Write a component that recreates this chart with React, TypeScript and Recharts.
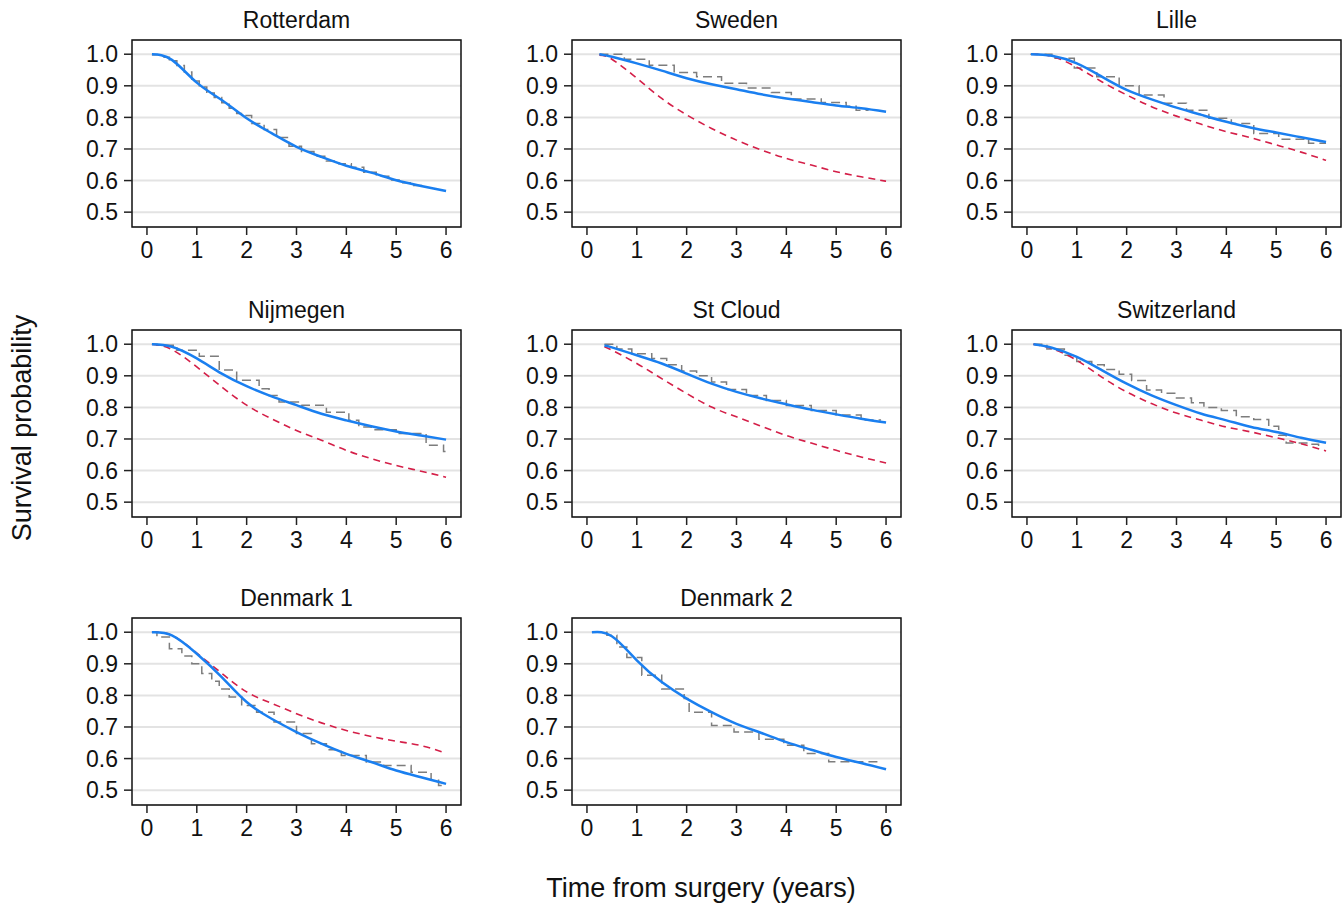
import { LineChart, Line, XAxis, YAxis, CartesianGrid, ReferenceArea } from "recharts";

// shared time grid for the smooth curves (after each panel's start time)
const GRID = [0.5, 1, 1.5, 2, 2.5, 3, 3.5, 4, 4.5, 5, 5.5, 6];
const X_TICKS = [0, 1, 2, 3, 4, 5, 6];
const Y_TICKS = [0.5, 0.6, 0.7, 0.8, 0.9, 1.0];

const names = ["Rotterdam", "Sweden", "Lille", "Nijmegen", "St Cloud", "Switzerland", "Denmark 1", "Denmark 2"];
const startTimes = [0.1, 0.25, 0.08, 0.1, 0.35, 0.13, 0.1, 0.1];

// model (blue), first value is at the start time
const rotterdamModel = [1.0, 0.982, 0.91, 0.855, 0.797, 0.75, 0.707, 0.675, 0.647, 0.625, 0.601, 0.583, 0.567];
const swedenModel = [1.0, 0.992, 0.971, 0.948, 0.924, 0.905, 0.889, 0.873, 0.86, 0.849, 0.838, 0.829, 0.818];
const lilleModel = [1.0, 0.995, 0.971, 0.929, 0.887, 0.857, 0.831, 0.808, 0.786, 0.767, 0.752, 0.737, 0.722];
const nijmegenModel = [1.0, 0.992, 0.955, 0.907, 0.867, 0.835, 0.807, 0.78, 0.759, 0.74, 0.724, 0.711, 0.698];
const stCloudModel = [0.996, 0.99, 0.965, 0.939, 0.907, 0.875, 0.849, 0.828, 0.81, 0.793, 0.778, 0.764, 0.752];
const switzerlandModel = [1.0, 0.989, 0.96, 0.918, 0.875, 0.838, 0.807, 0.78, 0.759, 0.738, 0.722, 0.704, 0.688];
const denmark1Model = [1.0, 0.99, 0.932, 0.858, 0.779, 0.726, 0.684, 0.647, 0.615, 0.589, 0.562, 0.541, 0.52];
const denmark2Model = [1.0, 0.987, 0.911, 0.842, 0.79, 0.747, 0.71, 0.681, 0.652, 0.628, 0.605, 0.586, 0.566];

// predicted without recalibration (red dashed)
const swedenPred = [0.997, 0.984, 0.924, 0.86, 0.808, 0.765, 0.728, 0.697, 0.67, 0.649, 0.628, 0.612, 0.598];
const lillePred = [1.0, 0.993, 0.959, 0.913, 0.871, 0.834, 0.804, 0.778, 0.755, 0.735, 0.713, 0.69, 0.664];
const nijmegenPred = [1.0, 0.983, 0.928, 0.865, 0.807, 0.764, 0.727, 0.696, 0.664, 0.638, 0.616, 0.598, 0.579];
const stCloudPred = [0.992, 0.981, 0.939, 0.891, 0.844, 0.801, 0.77, 0.74, 0.711, 0.687, 0.664, 0.643, 0.624];
const switzerlandPred = [1.0, 0.986, 0.949, 0.896, 0.849, 0.812, 0.782, 0.759, 0.738, 0.722, 0.704, 0.685, 0.662];
const denmark1Pred = [1.0, 0.99, 0.934, 0.87, 0.811, 0.775, 0.742, 0.713, 0.689, 0.67, 0.655, 0.641, 0.617];

// Kaplan-Meier (grey dashed steps)
const rotterdamKmT = [0.1, 0.3, 0.45, 0.6, 0.75, 0.9, 1.05, 1.2, 1.35, 1.5, 1.65, 1.8, 1.95, 2.1, 2.35, 2.6, 2.85, 3.1, 3.35, 3.6, 3.85, 4.1, 4.35, 4.6, 4.85, 5.1, 5.35, 5.6];
const rotterdamKmS = [0.998, 0.99, 0.979, 0.964, 0.944, 0.915, 0.896, 0.877, 0.863, 0.846, 0.829, 0.812, 0.806, 0.781, 0.762, 0.736, 0.709, 0.692, 0.677, 0.662, 0.653, 0.642, 0.626, 0.614, 0.602, 0.593, 0.584, 0.584];
const swedenKmT = [0.25, 0.75, 1.25, 1.75, 2.2, 2.7, 3.2, 3.7, 4.1, 4.7, 5.2, 5.4, 5.65];
const swedenKmS = [1.0, 0.984, 0.965, 0.942, 0.929, 0.908, 0.893, 0.879, 0.858, 0.847, 0.835, 0.823, 0.823];
const lilleKmT = [0.07, 0.5, 0.95, 1.4, 1.85, 2.25, 2.75, 3.2, 3.65, 4.1, 4.55, 5.05, 5.65, 6.0];
const lilleKmS = [1.0, 0.987, 0.956, 0.929, 0.9, 0.871, 0.845, 0.823, 0.797, 0.781, 0.749, 0.731, 0.718, 0.718];
const nijmegenKmT = [0.1, 0.2, 0.6, 1.05, 1.45, 1.8, 2.25, 2.45, 2.65, 3.1, 3.6, 4.05, 4.25, 4.5, 5.0, 5.6, 5.95, 6.0];
const nijmegenKmS = [1.0, 0.997, 0.981, 0.962, 0.918, 0.886, 0.859, 0.838, 0.817, 0.807, 0.785, 0.759, 0.738, 0.729, 0.717, 0.68, 0.66, 0.66];
const stCloudKmT = [0.35, 0.6, 0.9, 1.3, 1.6, 1.9, 2.2, 2.5, 2.8, 3.2, 3.6, 4.0, 4.5, 5.0, 5.5, 5.9];
const stCloudKmS = [1.0, 0.985, 0.97, 0.955, 0.935, 0.915, 0.9, 0.88, 0.857, 0.838, 0.822, 0.806, 0.79, 0.776, 0.76, 0.76];
const switzerlandKmT = [0.13, 0.4, 0.75, 1.0, 1.3, 1.55, 1.85, 2.1, 2.4, 2.7, 3.0, 3.3, 3.55, 3.9, 4.2, 4.55, 4.85, 5.05, 5.2, 5.7, 5.85];
const switzerlandKmS = [1.0, 0.985, 0.965, 0.945, 0.935, 0.92, 0.905, 0.885, 0.855, 0.845, 0.83, 0.815, 0.8, 0.79, 0.77, 0.762, 0.74, 0.712, 0.687, 0.683, 0.665];
const denmark1KmT = [0.1, 0.2, 0.45, 0.7, 0.9, 1.1, 1.3, 1.45, 1.65, 1.9, 2.2, 2.55, 3.0, 3.3, 3.6, 3.9, 4.4, 4.75, 5.3, 5.7, 5.85, 6.0];
const denmark1KmS = [1.0, 0.985, 0.948, 0.925, 0.9, 0.869, 0.845, 0.82, 0.795, 0.768, 0.747, 0.716, 0.679, 0.647, 0.628, 0.61, 0.589, 0.578, 0.557, 0.531, 0.515, 0.515];
const denmark2KmT = [0.1, 0.4, 0.6, 0.8, 1.1, 1.5, 1.95, 2.05, 2.5, 2.95, 3.45, 3.95, 4.35, 4.85, 5.9];
const denmark2KmS = [1.0, 0.99, 0.953, 0.92, 0.864, 0.82, 0.79, 0.747, 0.705, 0.684, 0.661, 0.642, 0.616, 0.59, 0.59];

const models = [rotterdamModel, swedenModel, lilleModel, nijmegenModel, stCloudModel, switzerlandModel, denmark1Model, denmark2Model];
const preds = [[], swedenPred, lillePred, nijmegenPred, stCloudPred, switzerlandPred, denmark1Pred, []];
const kmTimes = [rotterdamKmT, swedenKmT, lilleKmT, nijmegenKmT, stCloudKmT, switzerlandKmT, denmark1KmT, denmark2KmT];
const kmSurv = [rotterdamKmS, swedenKmS, lilleKmS, nijmegenKmS, stCloudKmS, switzerlandKmS, denmark1KmS, denmark2KmS];

const BOX_LEFT = [132, 572, 1012];
const BOX_TOP = [40, 330, 618];
const BOX_W = 329;
const Y_AXIS_W = 60;
const X_DOMAIN = [-0.3, 6.3];
const Y_DOMAIN = [0.453, 1.045];

const BLUE = "#1a7ff0";
const RED = "#d41f48";
const GREY = "#7d7d7d";

const curve = (start: number, vals: number[]) =>
	vals.map((v, i) => ({ t: i === 0 ? start : GRID[i - 1], v }));

const steps = (ts: number[], vs: number[]) => ts.map((t, i) => ({ t, v: vs[i] }));

function Panel({ idx }: { idx: number }) {
	const left = BOX_LEFT[idx % 3];
	const top = BOX_TOP[Math.floor(idx / 3)];
	const model = curve(startTimes[idx], models[idx]);
	const pred = preds[idx].length ? curve(startTimes[idx], preds[idx]) : null;
	const km = steps(kmTimes[idx], kmSurv[idx]);

	return (
		<>
			<div
				style={{
					position: "absolute",
					left,
					width: BOX_W,
					top: top - 31.5,
					textAlign: "center",
					fontSize: 23,
					lineHeight: "23px",
					color: "#111",
				}}
			>
				{names[idx]}
			</div>
			<div style={{ position: "absolute", left: left - Y_AXIS_W, top: top - 10 }}>
				<LineChart width={Y_AXIS_W + BOX_W + 3} height={242} margin={{ top: 10, right: 3, left: 0, bottom: 0 }}>
					<CartesianGrid vertical={false} stroke="#e3e3e3" strokeWidth={2} />
					<XAxis
						type="number"
						dataKey="t"
						domain={X_DOMAIN}
						ticks={X_TICKS}
						allowDataOverflow
						axisLine={false}
						tickSize={8}
						tickMargin={7}
						height={45}
						tick={{ fill: "#111", fontSize: 23 }}
						tickLine={{ stroke: "#222", strokeWidth: 1.5 }}
					/>
					<YAxis
						type="number"
						domain={Y_DOMAIN}
						ticks={Y_TICKS}
						allowDataOverflow
						axisLine={false}
						width={Y_AXIS_W}
						tickSize={8}
						tickMargin={6}
						tick={{ fill: "#111", fontSize: 23 }}
						tickLine={{ stroke: "#222", strokeWidth: 1.5 }}
						tickFormatter={(v: number) => v.toFixed(1)}
					/>
					<ReferenceArea
						x1={X_DOMAIN[0]}
						x2={X_DOMAIN[1]}
						y1={Y_DOMAIN[0]}
						y2={Y_DOMAIN[1]}
						fill="none"
						stroke="#111"
						strokeWidth={1.5}
						strokeOpacity={1}
					/>
					<Line
						data={km}
						dataKey="v"
						type="stepAfter"
						stroke={GREY}
						strokeWidth={1.5}
						strokeDasharray="9 5"
						dot={false}
						isAnimationActive={false}
					/>
					{pred && (
						<Line
							data={pred}
							dataKey="v"
							type="natural"
							stroke={RED}
							strokeWidth={1.6}
							strokeDasharray="7 5"
							dot={false}
							isAnimationActive={false}
						/>
					)}
					<Line
						data={model}
						dataKey="v"
						type="natural"
						stroke={BLUE}
						strokeWidth={2.5}
						dot={false}
						isAnimationActive={false}
					/>
				</LineChart>
			</div>
		</>
	);
}

export default function App() {
	return (
		<div
			style={{
				position: "absolute",
				left: 0,
				top: 0,
				width: 1344,
				height: 904,
				overflow: "hidden",
				background: "#fff",
				fontFamily: "'Liberation Sans', Arial, sans-serif",
			}}
		>
			{names.map((_, i) => (
				<Panel key={i} idx={i} />
			))}
			<div
				style={{
					position: "absolute",
					left: 22,
					top: 428,
					fontSize: 27,
					whiteSpace: "nowrap",
					transform: "translate(-50%, -50%) rotate(-90deg)",
					color: "#111",
				}}
			>
				Survival probability
			</div>
			<div
				style={{
					position: "absolute",
					left: 0,
					width: 1402,
					top: 875,
					textAlign: "center",
					fontSize: 27,
					lineHeight: "27px",
					color: "#111",
				}}
			>
				Time from surgery (years)
			</div>
		</div>
	);
}
